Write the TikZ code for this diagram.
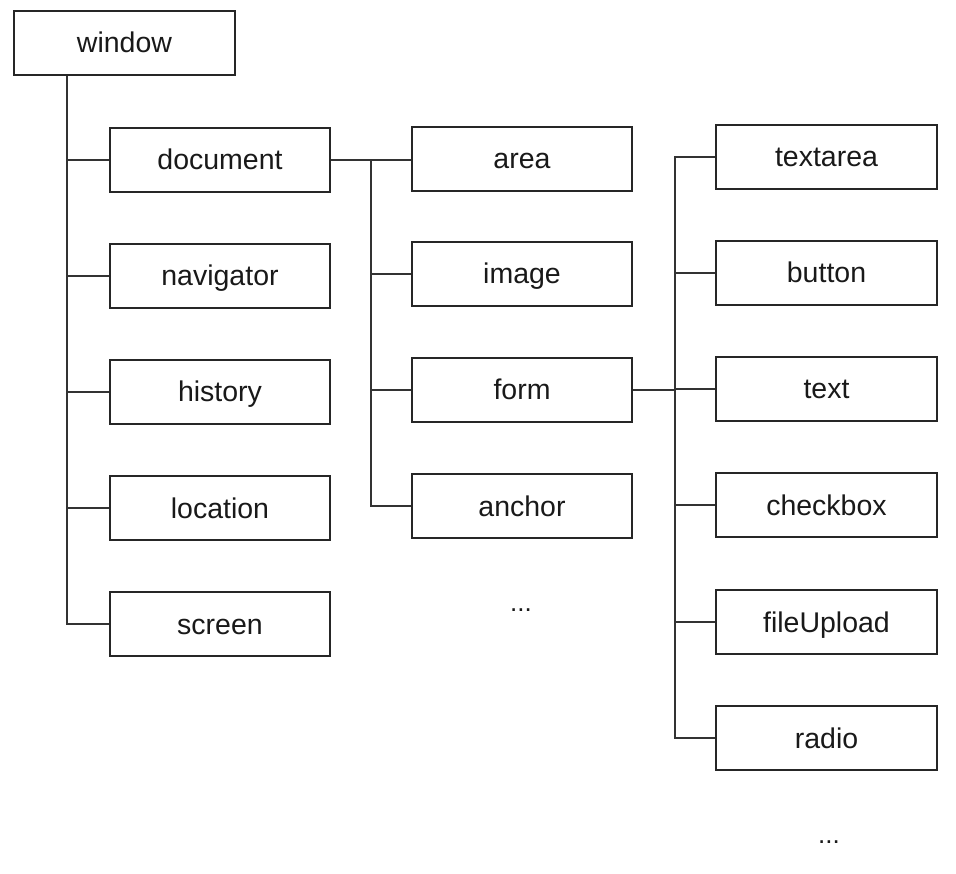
\documentclass[tikz,border=0pt]{standalone}
\usepackage{fontspec}
\setmainfont{Liberation Sans}
\begin{document}
\begin{tikzpicture}[x=1pt,y=-1pt,
  box/.style={draw=black!85,line width=1.1pt,minimum width=220pt,minimum height=64pt,inner sep=0pt,
    text height=24pt,text depth=4pt,
    font=\fontsize{28.5}{30}\selectfont,text=black!90},
  dots/.style={font=\fontsize{26}{30}\selectfont,text=black!90},
  conn/.style={draw=black!80,line width=1.1pt}]
\useasboundingbox (0,0) rectangle (956,874);
\node[box,minimum width=221pt] (win) at (124.5,43) {window};
\node[box] (doc) at (220,160) {document};
\node[box] (nav) at (220,276) {navigator};
\node[box] (his) at (220,392) {history};
\node[box] (loc) at (220,508) {location};
\node[box] (scr) at (220,624) {screen};
\node[box] (area) at (522,159) {area};
\node[box] (img) at (522,274) {image};
\node[box] (form) at (522,390) {form};
\node[box] (anc) at (522,506) {anchor};
\node[dots] (dots1) at (521,610) {...};
\node[box,minimum width=221pt] (ta) at (826.5,157) {textarea};
\node[box,minimum width=221pt] (btn) at (826.5,273) {button};
\node[box,minimum width=221pt] (txt) at (826.5,389) {text};
\node[box,minimum width=221pt] (chk) at (826.5,505) {checkbox};
\node[box,minimum width=221pt] (fu) at (826.5,622) {fileUpload};
\node[box,minimum width=221pt] (rad) at (826.5,738) {radio};
\node[dots] (dots2) at (829,842) {...};
% window tree
\coordinate (wt) at (67,75);
\draw[conn] (win.south -| wt) |- (scr.west);
\foreach \n in {doc,nav,his,loc} \draw[conn] (67,0 |- \n.west) -- (\n.west);
% document tree
\draw[conn] (doc.east) -- (doc.east -| area.west);
\draw[conn] (371,0 |- doc.east) |- (anc.west);
\foreach \n in {img,form} \draw[conn] (371,0 |- \n.west) -- (\n.west);
% form tree
\draw[conn] (form.east) -- (675,0 |- form.east);
\draw[conn] (ta.west) -| (675,0 |- rad.west) -- (rad.west);
\foreach \n in {btn,txt,chk,fu} \draw[conn] (675,0 |- \n.west) -- (\n.west);
\end{tikzpicture}
\end{document}
